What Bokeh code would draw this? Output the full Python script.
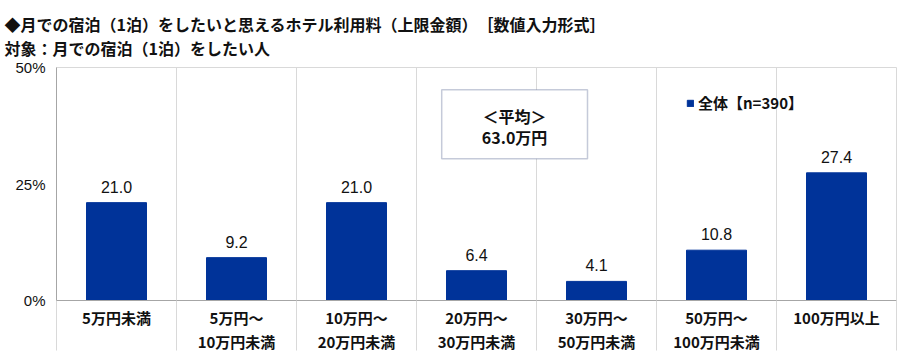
from bokeh.plotting import figure
from bokeh.models import (ColumnDataSource, FixedTicker, Label, Legend, LegendItem,
                          Range1d, BoxAnnotation, Title)
from bokeh.embed import file_html
from bokeh.resources import INLINE
from bokeh.core.properties import value

categories = ["5万円未満", "5万円～\n10万円未満", "10万円～\n20万円未満", "20万円～\n30万円未満",
              "30万円～\n50万円未満", "50万円～\n100万円未満", "100万円以上"]
values = [21.0, 9.2, 21.0, 6.4, 4.1, 10.8, 27.4]
y_ticks = [0, 25, 50]
y_tick_labels = ["0%", "25%", "50%"]
title1 = "◆月での宿泊（1泊）をしたいと思えるホテル利用料（上限金額）　［数値入力形式］"
title2 = "対象：月での宿泊（1泊）をしたい人"
legend_label = "全体【n=390】"
mean_lines = ["＜平均＞", "63.0万円"]

JP = "Noto Sans CJK JP"
BLUE = "#003399"

xs = list(range(1, len(categories) + 1))
src = ColumnDataSource(dict(x=xs, top=values, lab=[f"{v:.1f}" for v in values]))

p = figure(width=900, height=357, output_backend="svg", toolbar_location=None,
           x_range=Range1d(0.5, len(categories) + 0.5), y_range=Range1d(0, 50),
           min_border_left=56, min_border_right=4, min_border_top=67, min_border_bottom=57)
p.outline_line_color = "#d9d9d9"
p.background_fill_color = "white"
p.border_fill_color = "white"

bars = p.vbar(x="x", top="top", width=0.5, source=src, color=BLUE)
p.text(x="x", y="top", text="lab", source=src, text_align="center", text_baseline="bottom",
       y_offset=-10, text_font=value("Liberation Sans"), text_font_size="16px", text_color="#111111")

# x axis
bounds = [i + 0.5 for i in range(len(categories) + 1)]
p.xaxis.ticker = FixedTicker(ticks=xs, minor_ticks=bounds)
p.xaxis.major_label_overrides = {i + 1: c for i, c in enumerate(categories)}
p.xaxis.major_tick_line_color = None
p.xaxis.major_tick_in = 0
p.xaxis.major_tick_out = 0
p.xaxis.minor_tick_in = 0
p.xaxis.minor_tick_out = 50
p.xaxis.minor_tick_line_color = "#d9d9d9"
p.xaxis.axis_line_color = "#a6a6a6"
p.xaxis.major_label_text_font = JP
p.xaxis.major_label_text_font_style = "bold"
p.xaxis.major_label_text_font_size = "15px"
p.xaxis.major_label_text_line_height = 1.15
p.xaxis.major_label_text_color = "#111111"
p.xaxis.major_label_standoff = -44
p.xaxis.major_label_orientation = "horizontal"

p.xgrid.ticker = FixedTicker(ticks=bounds[1:-1])
p.xgrid.grid_line_color = "#d9d9d9"
p.ygrid.grid_line_color = None

# y axis
p.yaxis.ticker = FixedTicker(ticks=y_ticks)
p.yaxis.major_label_overrides = {t: l for t, l in zip(y_ticks, y_tick_labels)}
p.yaxis.major_tick_in = 0
p.yaxis.major_tick_out = 0
p.yaxis.minor_tick_line_color = None
p.yaxis.axis_line_color = "#a6a6a6"
p.yaxis.major_label_text_font = "Liberation Sans"
p.yaxis.major_label_text_font_size = "15px"
p.yaxis.major_label_text_color = "#111111"
p.yaxis.major_label_standoff = 11

# mean box
p.add_layout(BoxAnnotation(left=3.71, right=4.925, bottom=30.4, top=45.2,
                           fill_color="white", fill_alpha=1.0, line_color="#3f4f80", line_width=1.5))
p.add_layout(Label(x=4.3175, y=39.6, text=mean_lines[0], text_align="center", text_baseline="middle",
                   text_font=JP, text_font_style="bold", text_font_size="16px", text_color="#111111"))
p.add_layout(Label(x=4.3175, y=35.0, text=mean_lines[1], text_align="center", text_baseline="middle",
                   text_font=JP, text_font_style="bold", text_font_size="16px", text_color="#111111"))

# legend
leg = Legend(items=[LegendItem(label=legend_label, renderers=[bars])], location=(630, 187),
             glyph_width=8, glyph_height=8, label_text_font=JP, label_text_font_style="bold",
             label_text_font_size="15px", label_text_color="#111111", border_line_color=None,
             background_fill_alpha=0, padding=2, margin=0, label_standoff=4)
p.add_layout(leg)

# titles (two lines)
p.add_layout(Title(text=title1 + "\n" + title2, text_font=JP, text_font_style="bold",
                   text_font_size="16px", text_line_height=1.0, text_color="#111111",
                   offset=-52, standoff=15), "above")

open("out.html", "w").write(file_html(p, INLINE))
